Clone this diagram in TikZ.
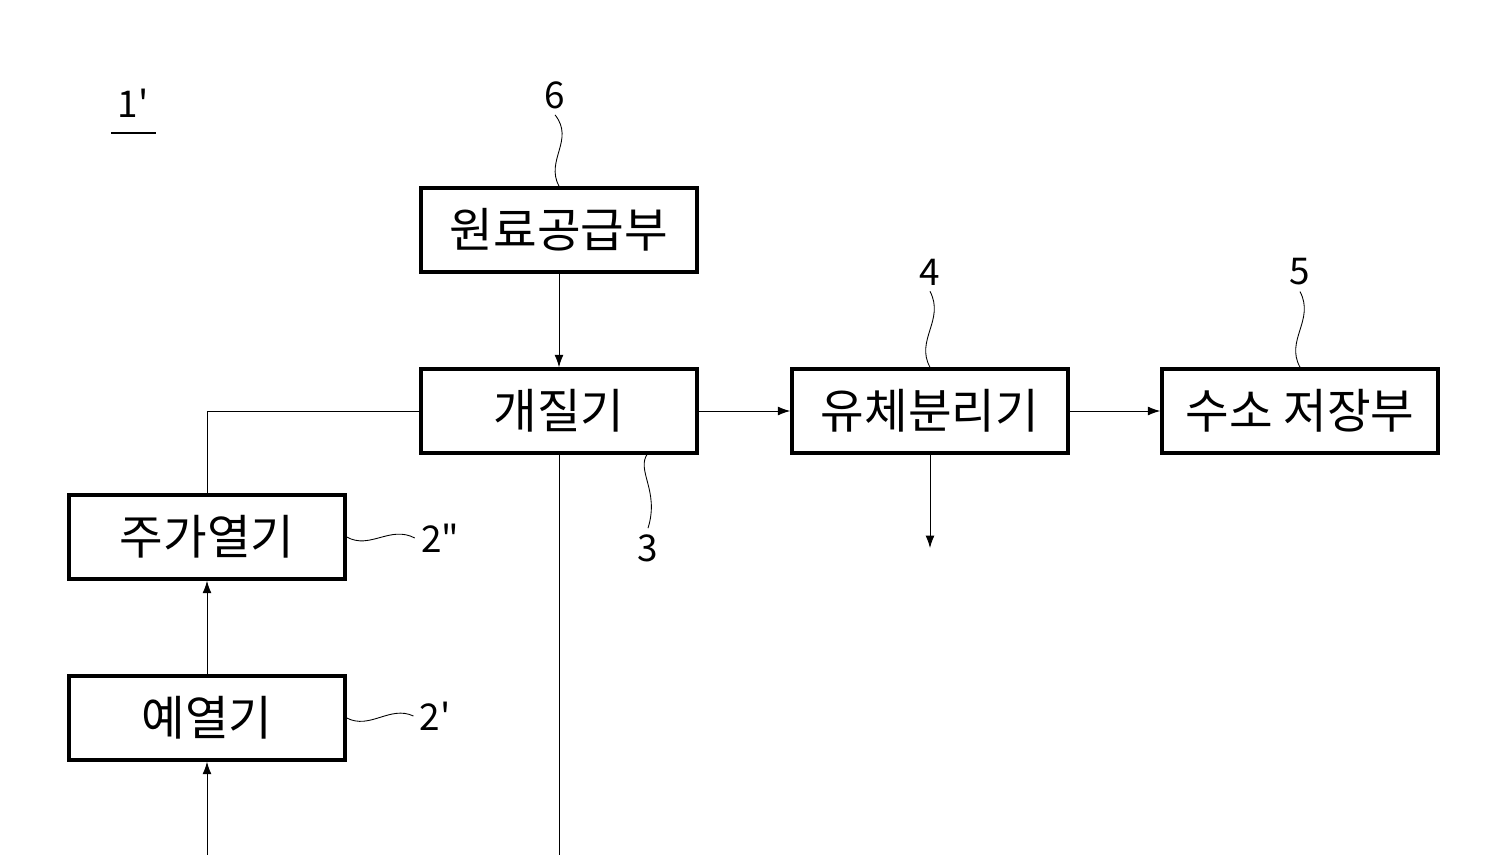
\documentclass[tikz,border=0pt]{standalone}
\usepackage{fontspec}
\setmainfont{Noto Sans CJK KR}
\newfontfamily\numfont{Noto Sans CJK KR}[Ligatures=TeXOff]
\usetikzlibrary{positioning,arrows.meta}
\tikzset{
  unit/.style={draw,line width=2pt,minimum width=5.52cm,minimum height=1.68cm,font=\fontsize{27}{31}\selectfont},
  flow/.style={line width=0.5pt,-{Latex[length=7pt,width=5pt]}},
  line/.style={line width=0.5pt},
  refno/.style={font=\numfont\fontsize{21}{25}\selectfont},
  lead/.style={line width=0.5pt}
}
\begin{document}
\begin{tikzpicture}[x=0.02cm,y=-0.02cm]
\useasboundingbox (0,0) rectangle (1501,855);
% boxes
\node[unit] (feed) at (559,230) {원료공급부};
\node[unit] (reform) at (559,411) {개질기};
\node[unit] (sep) at (930,411) {유체분리기};
\node[unit] (store) at (1300,411) {수소 저장부};
\node[unit] (heat) at (207,537) {주가열기};
\node[unit] (pre) at (207,718) {예열기};
% free ends
\coordinate (sepout) at (930,548);
\coordinate (corner) at (207,411);
\coordinate (prein) at (207,855);
\coordinate (refout) at (559,855);
% connectors
\draw[flow] (feed) -- (reform);
\draw[flow] (reform) -- (sep);
\draw[flow] (sep) -- (store);
\draw[flow] (sep) -- (sepout);
\draw[line] (reform.west) -- (corner) -- (heat.north);
\draw[flow] (pre) -- (heat);
\draw[flow] (prein) -- (pre.south);
\draw[line] (reform.south) -- (refout);
% reference numbers
\node[refno] (n6) at (555,95) {6};
\node[refno] (n4) at (930,272) {4};
\node[refno] (n5) at (1300,272) {5};
\node[refno] (n3) at (648,548) {3};
\node[refno] (n2a) at (440,538) {2"};
\node[refno] (n2b) at (435,716) {2'};
\node[refno] (n1) at (133,103) {1'};
\draw[line width=0.8pt] (111,133) -- (156,133);
% leaders
\draw[lead] (n6.south) .. controls (575,140) and (545,160) .. (feed.north);
\draw[lead] (n4.south) .. controls (945,320) and (915,340) .. (sep.north);
\draw[lead] (n5.south) .. controls (1315,320) and (1285,340) .. (store.north);
\draw[lead] (n3.north) .. controls (660,490) and (635,470) .. (648,453);
\draw[lead] (n2a.west) .. controls (390,525) and (370,550) .. (heat.east);
\draw[lead] (n2b.west) .. controls (390,705) and (370,730) .. (pre.east);
\end{tikzpicture}
\end{document}
